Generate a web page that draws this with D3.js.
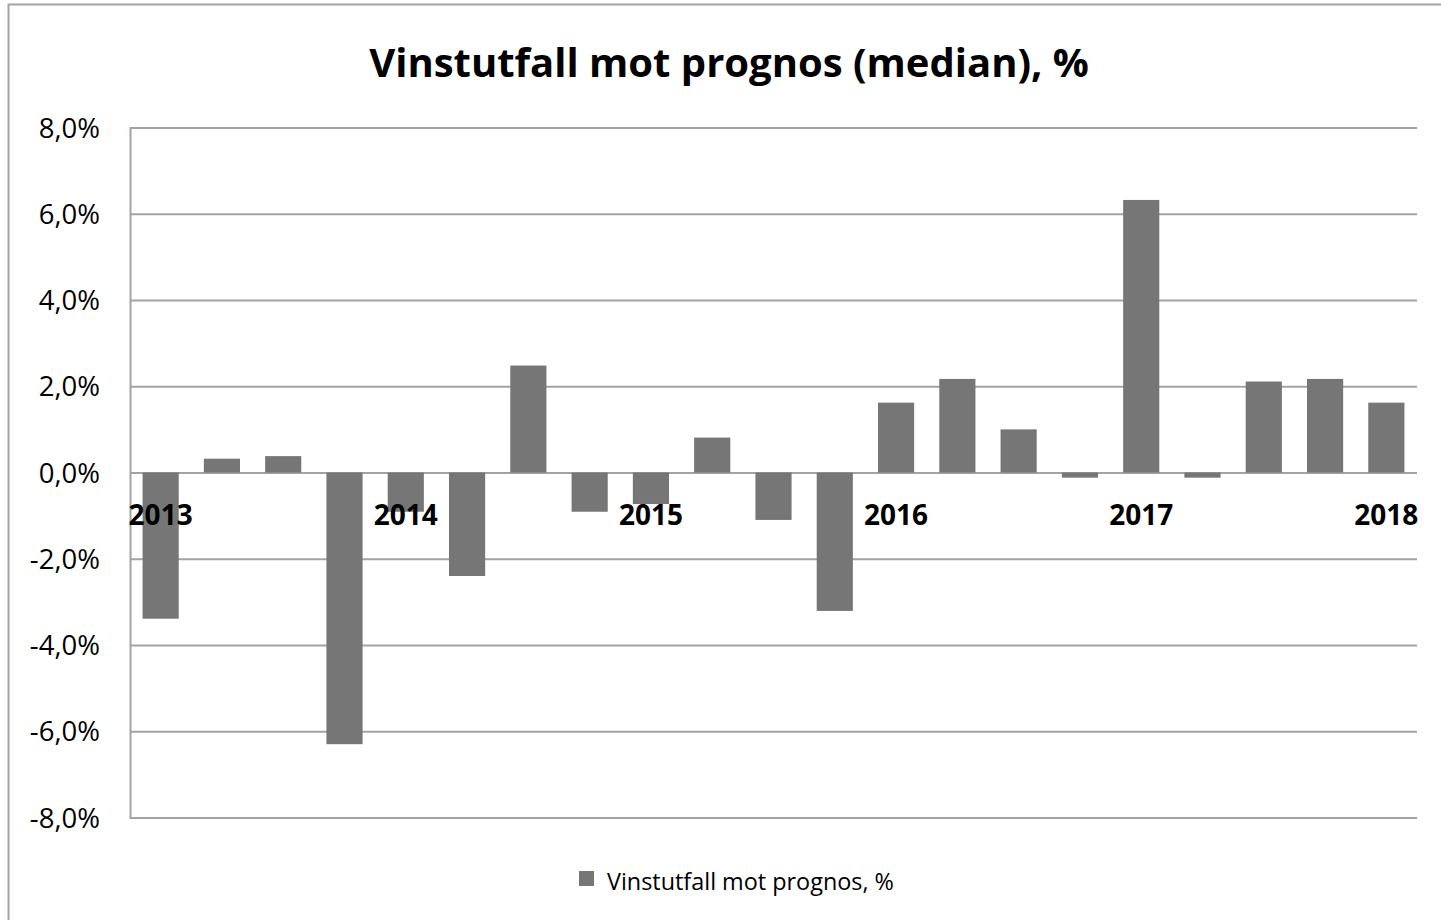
<!DOCTYPE html>
<html>
<head>
<meta charset="utf-8">
<script src="https://cdn.jsdelivr.net/npm/d3@7/dist/d3.min.js"></script>
<style>
  html, body { margin: 0; padding: 0; background: #ffffff; }
  svg { display: block; }
  text { font-family: "Open Sans", "Noto Sans", sans-serif; }
</style>
</head>
<body>
<svg id="chart" width="1441" height="920"></svg>
<script>
// ---- data ----
const title = "Vinstutfall mot prognos (median), %";
const seriesName = "Vinstutfall mot prognos, %";
const quarters = [
  "2013 K1","2013 K2","2013 K3","2013 K4",
  "2014 K1","2014 K2","2014 K3","2014 K4",
  "2015 K1","2015 K2","2015 K3","2015 K4",
  "2016 K1","2016 K2","2016 K3","2016 K4",
  "2017 K1","2017 K2","2017 K3","2017 K4",
  "2018 K1"
];
const values = [
  -3.39, 0.32, 0.38, -6.30,
  -0.91, -2.40, 2.48, -0.91,
  -0.73, 0.81, -1.10, -3.21,
  1.62, 2.17, 1.00, -0.12,
  6.32, -0.12, 2.11, 2.17,
  1.62
];
const yearLabels = ["2013","2014","2015","2016","2017","2018"];
const yearLabelQuarters = ["2013 K1","2014 K1","2015 K1","2016 K1","2017 K1","2018 K1"];
const yTicks = [-8, -6, -4, -2, 0, 2, 4, 6, 8];

// ---- layout ----
const W = 1441, H = 920;
const plot = { left: 130, right: 1417, top: 127.5, bottom: 817.5 };
const barColor = "#767676";
const gridColor = "#a3a3a3";

const svg = d3.select("#chart");

// outer chart border (extends beyond the visible frame on right/bottom)
svg.append("rect")
  .attr("x", 8.5).attr("y", 4.5)
  .attr("width", W + 20).attr("height", H + 20)
  .attr("fill", "#ffffff")
  .attr("stroke", "#a3a3a3").attr("stroke-width", 2);

const x = d3.scaleBand()
  .domain(quarters)
  .range([plot.left, plot.right])
  .paddingInner(0.41)
  .paddingOuter(0.205);

const y = d3.scaleLinear()
  .domain([-8, 8])
  .range([plot.bottom, plot.top]);

const fmt = v => d3.format(".1f")(v).replace(".", ",").replace("−", "-") + "%";

// gridlines + y labels via axis
const yAxis = d3.axisLeft(y)
  .tickValues(yTicks)
  .tickSize(-(plot.right - plot.left))
  .tickPadding(30)
  .tickFormat(fmt);

const gy = svg.append("g")
  .attr("transform", `translate(${plot.left},0)`)
  .call(yAxis);
gy.select(".domain").attr("stroke", gridColor).attr("stroke-width", 2);
gy.selectAll(".tick line").attr("stroke", gridColor).attr("stroke-width", 2);
gy.selectAll(".tick text")
  .attr("fill", "#000")
  .style("font-size", "27.5px")
  .attr("dy", "0.35em");

// bars
svg.append("g")
  .selectAll("rect")
  .data(quarters.map((q, i) => ({ q, v: values[i] })))
  .join("rect")
  .attr("x", d => x(d.q))
  .attr("width", x.bandwidth())
  .attr("y", d => y(Math.max(0, d.v)))
  .attr("height", d => Math.abs(y(d.v) - y(0)))
  .attr("fill", barColor);

// year labels (category axis labels, drawn next to zero line)
svg.append("g")
  .selectAll("text")
  .data(yearLabels.map((t, i) => ({ t, q: yearLabelQuarters[i] })))
  .join("text")
  .attr("x", d => x(d.q) + x.bandwidth() / 2)
  .attr("y", y(0) + 52)
  .attr("text-anchor", "middle")
  .attr("fill", "#000")
  .style("font-size", "28px")
  .style("font-weight", "700")
  .text(d => d.t);

// title
svg.append("text")
  .attr("x", 729)
  .attr("y", 77)
  .attr("text-anchor", "middle")
  .attr("fill", "#000")
  .style("font-size", "40px")
  .style("font-weight", "700")
  .text(title);

// legend
const lg = svg.append("g");
lg.append("rect")
  .attr("x", 579).attr("y", 871)
  .attr("width", 15).attr("height", 15)
  .attr("fill", barColor);
lg.append("text")
  .attr("x", 607).attr("y", 890)
  .attr("fill", "#000")
  .style("font-size", "23.4px")
  .text(seriesName);
</script>
</body>
</html>
